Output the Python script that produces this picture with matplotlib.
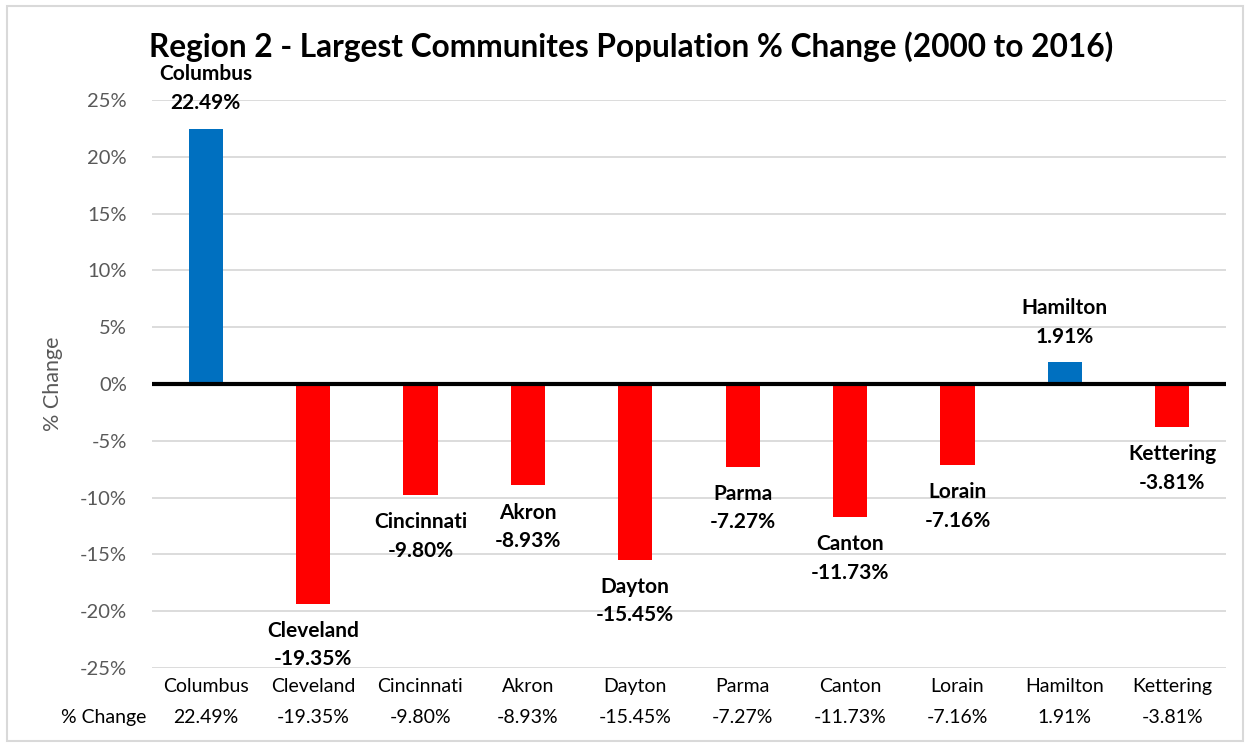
import matplotlib.pyplot as plt
from matplotlib.patches import Rectangle

# Datos del gráfico
ciudades = ["Columbus", "Cleveland", "Cincinnati", "Akron", "Dayton",
            "Parma", "Canton", "Lorain", "Hamilton", "Kettering"]
cambio = [22.49, -19.35, -9.80, -8.93, -15.45, -7.27, -11.73, -7.16, 1.91, -3.81]
yticks = [25, 20, 15, 10, 5, 0, -5, -10, -15, -20, -25]

plt.rcParams['font.family'] = ['Lato', 'DejaVu Sans']

fig = plt.figure(figsize=(12.5, 7.47), dpi=100)
ax = fig.add_axes([152 / 1250, 1 - 668 / 747, 1074 / 1250, 568 / 747])

# Borde exterior de la figura
fig.patches.append(Rectangle((7 / 1250, 6 / 747), 1236 / 1250, 735 / 747,
                             transform=fig.transFigure, fill=False,
                             edgecolor='#d9d9d9', linewidth=1.5))

x = list(range(len(ciudades)))
colores = ['#0070C0' if v > 0 else '#FF0000' for v in cambio]
ax.bar(x, cambio, width=0.32, color=colores, zorder=2)

ax.set_xlim(-0.5, len(ciudades) - 0.5)
ax.set_ylim(-25, 25)
ax.set_yticks(yticks)
ax.set_yticklabels([f"{t}%" for t in yticks], fontsize=14.5, color='#595959')
ax.tick_params(axis='y', length=0, pad=18)
ax.set_xticks([])
ax.grid(axis='y', color='#d9d9d9', linewidth=1.3, zorder=0)
ax.set_axisbelow(True)
for s in ax.spines.values():
    s.set_visible(False)
ax.axhline(0, color='black', linewidth=3, zorder=3)

ax.set_ylabel("% Change", fontsize=15.5, color='#595959', labelpad=12)

# Etiquetas de cada barra
for xi, nombre, v in zip(x, ciudades, cambio):
    if v > 0:
        o1, o2 = 39, 18.5
    else:
        o1, o2 = -19.5, -40
    ax.annotate(nombre, (xi, v), xytext=(0, o1), textcoords='offset points',
                ha='center', va='center', fontsize=15, fontweight='bold')
    ax.annotate(f"{v:.2f}%", (xi, v), xytext=(0, o2), textcoords='offset points',
                ha='center', va='center', fontsize=15, fontweight='bold')

# Tabla de datos debajo del eje
trans = ax.get_xaxis_transform()
for xi, nombre, v in zip(x, ciudades, cambio):
    ax.text(xi, -0.032, nombre, transform=trans, ha='center', va='center',
            fontsize=14)
    ax.text(xi, -0.088, f"{v:.2f}%", transform=trans, ha='center', va='center',
            fontsize=14)
ax.text(-0.55, -0.088, "% Change", transform=trans, ha='right', va='center',
        fontsize=14)

fig.text(631 / 1250, 1 - 47 / 747,
         "Region 2 - Largest Communites Population % Change (2000 to 2016)",
         ha='center', va='center', fontsize=22.8, fontweight='bold')

fig.savefig("out.png", dpi=100)
